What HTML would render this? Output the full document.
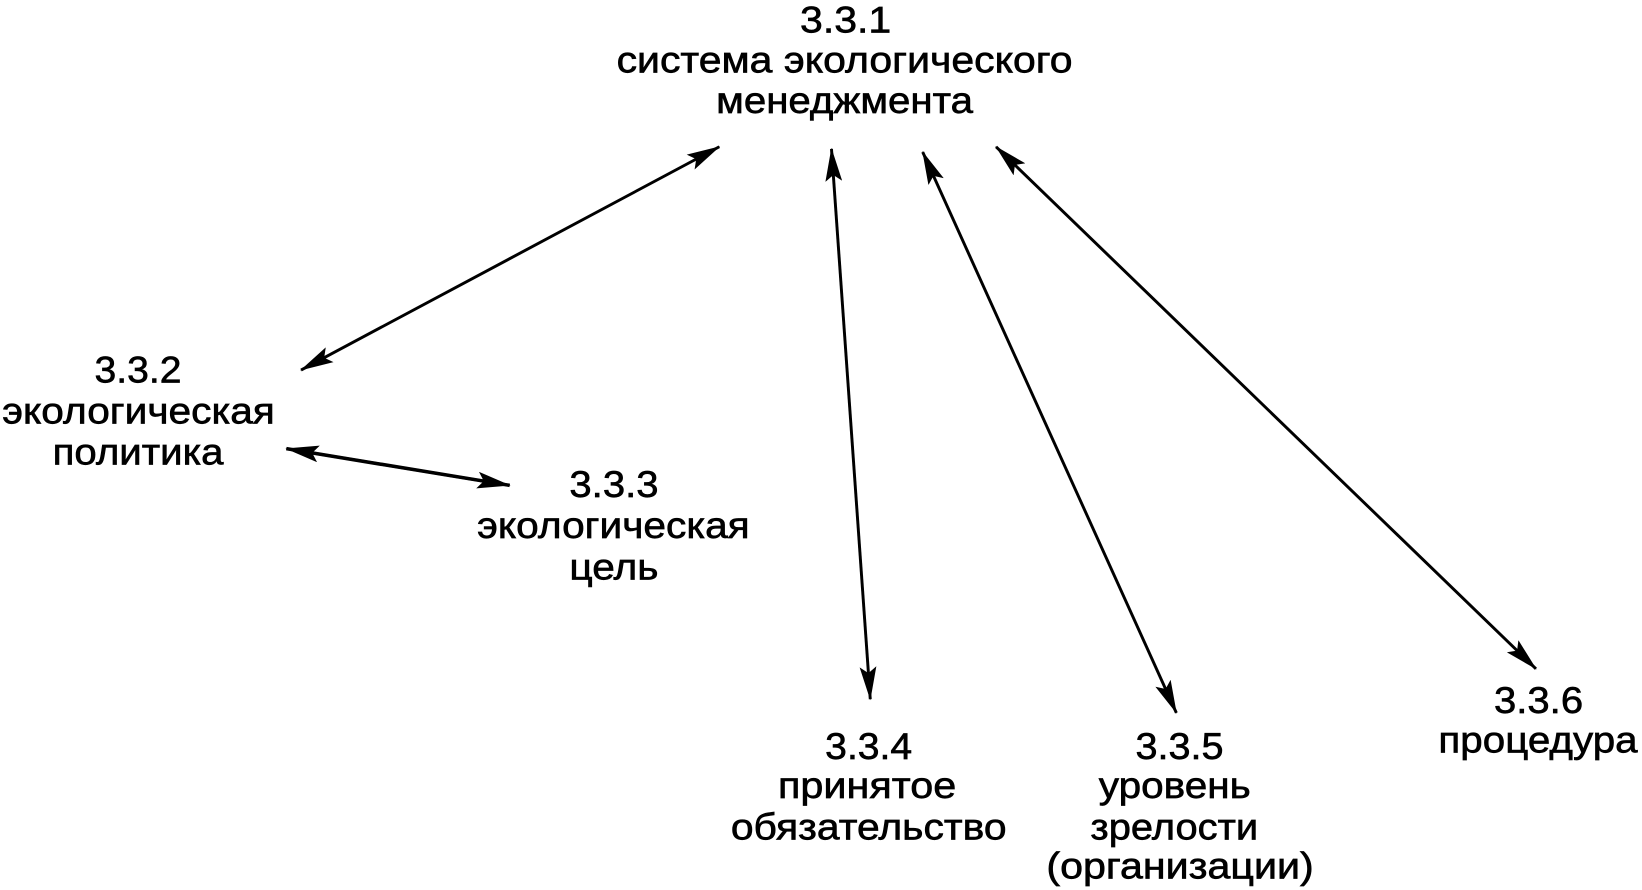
<!DOCTYPE html>
<html><head><meta charset="utf-8"><style>
html,body{margin:0;padding:0;background:#fff;}
svg{display:block;}
text{font-family:"Liberation Sans","DejaVu Sans",sans-serif;font-size:35px;fill:#000;stroke:#000;stroke-width:0.6;}
</style></head><body>
<svg width="1642" height="890" viewBox="0 0 1566 849" xmlns="http://www.w3.org/2000/svg">
<defs>
<marker id="a" viewBox="0 0 32 16" refX="31" refY="8" markerWidth="32" markerHeight="16" markerUnits="userSpaceOnUse" orient="auto-start-reverse">
<path d="M0,0 L32,8 L0,16 L6,8 Z" fill="#000"/>
</marker>
</defs>
<g stroke="#000" stroke-width="2.8" fill="none" marker-start="url(#a)" marker-end="url(#a)">
<line x1="287" y1="353" x2="686" y2="140"/>
<line x1="793" y1="142" x2="830" y2="667"/>
<line x1="880" y1="145" x2="1122" y2="680"/>
<line x1="950" y1="140" x2="1465" y2="638"/>
<line x1="273" y1="428" x2="486" y2="463"/>
</g>
<g stroke="#000" stroke-width="3.4" fill="none">
<line x1="273" y1="428" x2="486" y2="463"/>
</g>
<g>
<text x="763" y="31" textLength="87" lengthAdjust="spacingAndGlyphs">3.3.1</text>
<text x="588" y="69" textLength="435" lengthAdjust="spacingAndGlyphs">система экологического</text>
<text x="683" y="108" textLength="245" lengthAdjust="spacingAndGlyphs">менеджмента</text>

<text x="90" y="365" textLength="83" lengthAdjust="spacingAndGlyphs">3.3.2</text>
<text x="2" y="404" textLength="260" lengthAdjust="spacingAndGlyphs">экологическая</text>
<text x="50" y="443" textLength="163" lengthAdjust="spacingAndGlyphs">политика</text>

<text x="543" y="474" textLength="85" lengthAdjust="spacingAndGlyphs">3.3.3</text>
<text x="455" y="513" textLength="260" lengthAdjust="spacingAndGlyphs">экологическая</text>
<text x="543" y="553" textLength="85" lengthAdjust="spacingAndGlyphs">цель</text>

<text x="787" y="724" textLength="83" lengthAdjust="spacingAndGlyphs">3.3.4</text>
<text x="742" y="761" textLength="170" lengthAdjust="spacingAndGlyphs">принятое</text>
<text x="697" y="801" textLength="263" lengthAdjust="spacingAndGlyphs">обязательство</text>

<text x="1083" y="724" textLength="84" lengthAdjust="spacingAndGlyphs">3.3.5</text>
<text x="1048" y="761" textLength="145" lengthAdjust="spacingAndGlyphs">уровень</text>
<text x="1040" y="801" textLength="160" lengthAdjust="spacingAndGlyphs">зрелости</text>
<text x="998" y="838" textLength="255" lengthAdjust="spacingAndGlyphs">(организации)</text>

<text x="1425" y="680" textLength="85" lengthAdjust="spacingAndGlyphs">3.3.6</text>
<text x="1372" y="718" textLength="190" lengthAdjust="spacingAndGlyphs">процедура</text>
</g>
</svg>
</body></html>
